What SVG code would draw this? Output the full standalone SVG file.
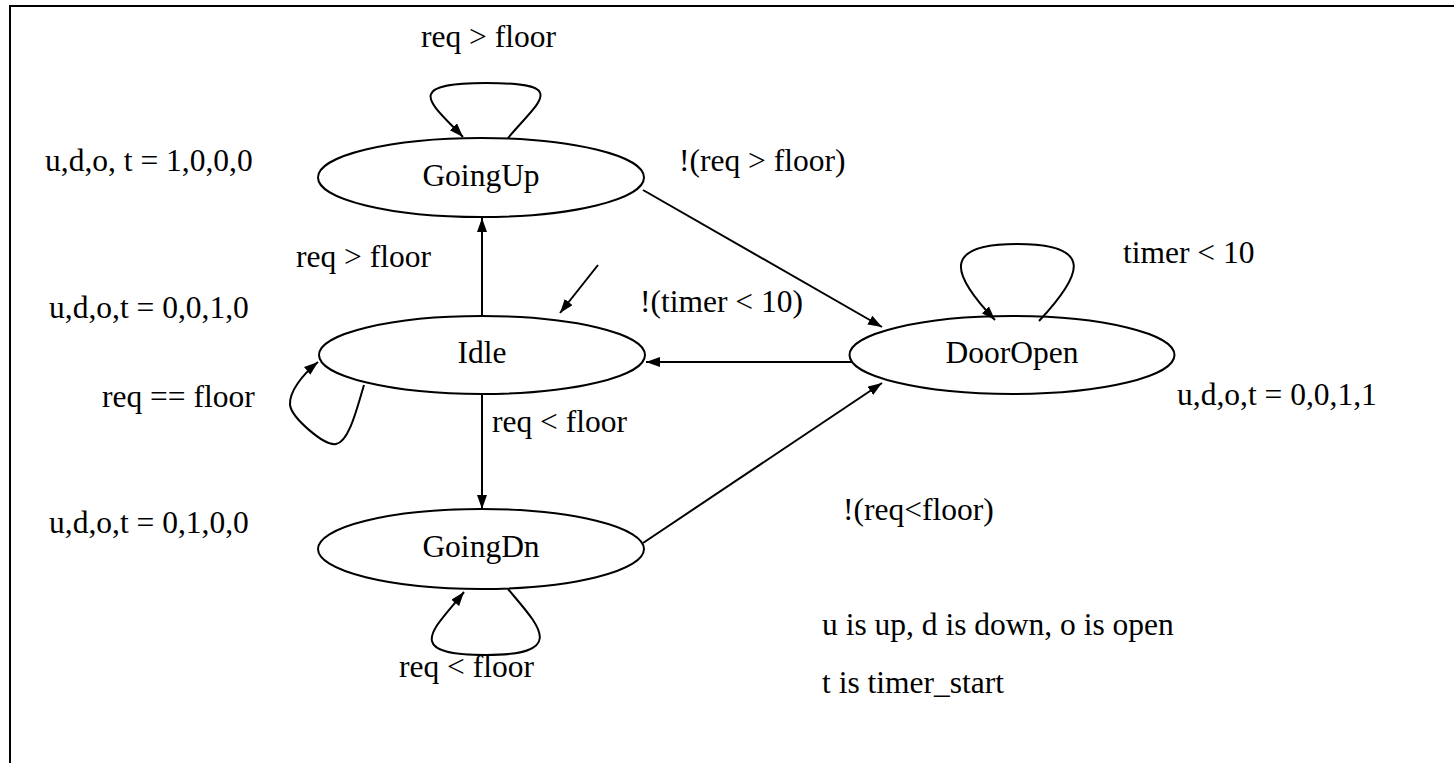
<svg xmlns="http://www.w3.org/2000/svg" width="1454" height="763" viewBox="0 0 1454 763">
<style>
text{font-family:"Liberation Serif","Times New Roman",serif;font-size:31.5px;fill:#000}
.n{text-anchor:middle}
ellipse{fill:none;stroke:#000;stroke-width:2}
.e path{fill:none;stroke:#000;stroke-width:2;marker-end:url(#ah)}
</style>
<defs>
<marker id="ah" markerUnits="userSpaceOnUse" markerWidth="15" markerHeight="11" refX="14" refY="5" orient="auto">
<path d="M0,0 L14,5 L0,10 z" fill="#000"/>
</marker>
</defs>
<rect width="1454" height="763" fill="#fff"/>
<rect x="10" y="6" width="1500" height="800" fill="none" stroke="#000" stroke-width="2"/>
<g id="GoingUp"><ellipse cx="481" cy="177.5" rx="163" ry="39.5"/><text class="n" x="481" y="186">GoingUp</text></g>
<g id="Idle"><ellipse cx="482" cy="355" rx="163" ry="39"/><text class="n" x="482" y="363">Idle</text></g>
<g id="DoorOpen"><ellipse cx="1012" cy="355" rx="162.5" ry="39"/><text class="n" x="1012" y="363">DoorOpen</text></g>
<g id="GoingDn"><ellipse cx="481" cy="549" rx="163" ry="40"/><text class="n" x="481" y="557">GoingDn</text></g>
<g class="e" id="connectors">
<path d="M508,138 C540,100 570,83 486,83 C400,83 432,104 463,137"/>
<path d="M1039,321 C1082,275 1096,244 1017,244 C940,244 952,275 995,320"/>
<path d="M508,589 C538,625 570,655 486,655 C400,655 435,628 464,592"/>
<path d="M364,385 C357,408 349,442 336,444 C324,446 292,418 290,405 C289,392 302,375 318,362"/>
<path d="M482,316 L482,218"/>
<path d="M482,394 L482,509"/>
<path d="M643,190 L882,327"/>
<path d="M852,362 L646,362"/>
<path d="M643,543 L882,383"/>
<path d="M598,265 L560,313"/>
</g>
<g id="labels">
<text x="421" y="47">req &gt; floor</text>
<text x="45" y="171">u,d,o, t = 1,0,0,0</text>
<text x="679" y="171">!(req &gt; floor)</text>
<text x="296" y="267">req &gt; floor</text>
<text x="1123" y="263">timer &lt; 10</text>
<text x="49" y="318">u,d,o,t = 0,0,1,0</text>
<text x="640" y="312">!(timer &lt; 10)</text>
<text x="102" y="407">req == floor</text>
<text x="1177" y="405">u,d,o,t = 0,0,1,1</text>
<text x="492" y="432">req &lt; floor</text>
<text x="843" y="520">!(req&lt;floor)</text>
<text x="49" y="533">u,d,o,t = 0,1,0,0</text>
<text x="822" y="635">u is up, d is down, o is open</text>
<text x="399" y="677">req &lt; floor</text>
<text x="822" y="693">t is timer_start</text>
</g>
</svg>
